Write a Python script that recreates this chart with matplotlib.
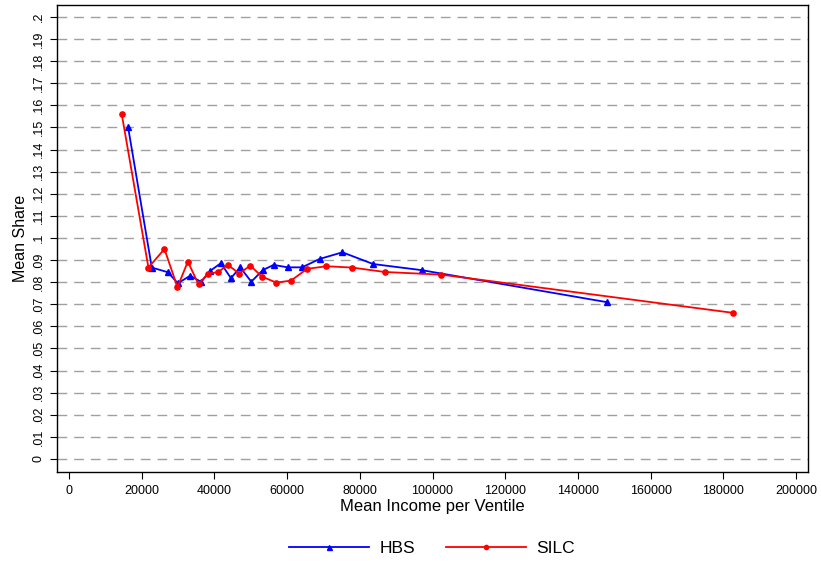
import numpy as np
import matplotlib
matplotlib.use('Agg')
import matplotlib.pyplot as plt

plt.rcParams['font.family'] = ['Liberation Sans', 'DejaVu Sans']

# mean income per ventile and mean share
hbs_income = [16250, 22780, 27190, 29940, 33340, 36370, 38850, 41790, 44540, 47110,
              50140, 53360, 56290, 60150, 64110, 68960, 75210, 83670, 97150, 148130]
hbs_share = [0.1502, 0.0866, 0.0845, 0.0795, 0.0829, 0.0801, 0.0851, 0.0886, 0.0818, 0.0867,
             0.0802, 0.0855, 0.0878, 0.0867, 0.0867, 0.0905, 0.0935, 0.0882, 0.0854, 0.0709]

silc_income = [14510, 21850, 26260, 29840, 32690, 35630, 38210, 40960, 43720, 46840,
               49870, 53080, 57030, 61080, 65480, 70800, 77880, 86870, 102400, 182740]
silc_share = [0.1560, 0.0866, 0.0950, 0.0777, 0.0893, 0.0790, 0.0839, 0.0845, 0.0878, 0.0839,
              0.0875, 0.0825, 0.0798, 0.0807, 0.0860, 0.0872, 0.0866, 0.0846, 0.0834, 0.0661]

x_ticks = np.arange(0, 200001, 20000)
y_ticks = np.round(np.arange(0, 0.2001, 0.01), 2)
y_labels = ['0' if v == 0 else ('%g' % v).lstrip('0') for v in y_ticks]

fig = plt.figure(figsize=(8.21, 5.65), dpi=100)
ax = fig.add_axes([57/821, 1-472/565, (808-57)/821, (472-5)/565])

# dashed grid
for v in y_ticks:
    ax.axhline(v, color='#a0a0a0', lw=1.0, dashes=(7, 5), zorder=0)

ax.plot(hbs_income, hbs_share, color='#0000ff', lw=1.3, marker='^', ms=4.5, label='HBS', zorder=3)
ax.plot(silc_income, silc_share, color='#ff0000', lw=1.3, marker='o', ms=3.8, label='SILC', zorder=4)

ax.set_xlim(-3300, 203300)
ax.set_ylim(-0.0059, 0.2054)
ax.set_xticks(x_ticks)
ax.set_xticklabels([str(v) for v in x_ticks], fontsize=9)
ax.set_yticks(y_ticks)
ax.set_yticklabels(y_labels, rotation=90, va='center', fontsize=9)
ax.tick_params(direction='out', length=5, width=0.8, color='black', pad=4)

for s in ax.spines.values():
    s.set_color('black')
    s.set_linewidth(1.0)

ax.set_xlabel('Mean Income per Ventile', fontsize=12, labelpad=2)
ax.set_ylabel('Mean Share', fontsize=11.5, labelpad=3)

fig.legend(loc='center', bbox_to_anchor=(432/821, 1-548/565), ncol=2, frameon=False,
           fontsize=12.5, handlelength=4.6, handletextpad=0.6, columnspacing=1.8,
           markerscale=0.8)

fig.savefig('out.png', dpi=100)
